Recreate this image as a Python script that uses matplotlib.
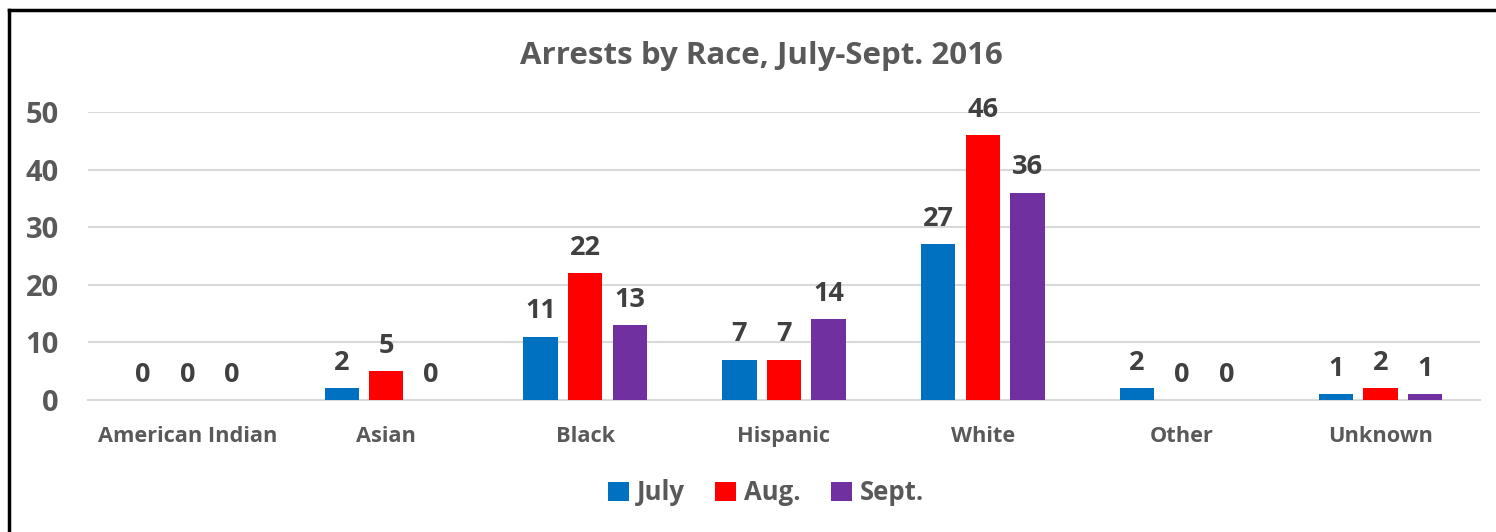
import matplotlib
matplotlib.use("Agg")
import matplotlib.pyplot as plt
from matplotlib.lines import Line2D
import numpy as np

categories = ["American Indian", "Asian", "Black", "Hispanic", "White", "Other", "Unknown"]
july = [0, 2, 11, 7, 27, 2, 1]
aug = [0, 5, 22, 7, 46, 0, 2]
sept = [0, 0, 13, 14, 36, 0, 1]
series_names = ["July", "Aug.", "Sept."]
colors = ["#0070C0", "#FF0000", "#7030A0"]
yticks = [0, 10, 20, 30, 40, 50]

plt.rcParams['font.family'] = ['Open Sans', 'DejaVu Sans']
plt.rcParams['font.weight'] = 'bold'

fig = plt.figure(figsize=(14.96, 5.32), dpi=100)
ax = fig.add_axes([88/1496, 1-400/532, (1480-88)/1496, (400-112)/532])

x = np.arange(len(categories))
bw = 0.172
step = 0.224
for i, (vals, name, c) in enumerate(zip([july, aug, sept], series_names, colors)):
    pos = x + (i - 1) * step
    ax.bar(pos, vals, width=bw, color=c, label=name, zorder=3)
    for p, v in zip(pos, vals):
        ax.annotate(str(v), (p, v), xytext=(0, 9), textcoords="offset points",
                    ha="center", va="bottom", fontsize=19.5, fontweight="bold",
                    color="#404040", annotation_clip=False)

ax.set_xlim(-0.5, len(categories) - 0.5)
ax.set_ylim(0, 50)
ax.set_yticks(yticks)
ax.set_yticklabels([str(t) for t in yticks], fontsize=21, color="#595959", fontweight="bold")
ax.set_xticks(x)
ax.set_xticklabels(categories, fontsize=15.7, color="#595959", fontweight="bold")
ax.tick_params(axis="both", length=0)
ax.tick_params(axis="y", pad=21)
ax.tick_params(axis="x", pad=19)
ax.grid(axis="y", color="#D9D9D9", linewidth=1.5, zorder=0)
for s in ["top", "right", "left"]:
    ax.spines[s].set_visible(False)
ax.spines["bottom"].set_color("#D9D9D9")
ax.spines["bottom"].set_linewidth(1.5)

fig.text(761/1496, 1-56/532, "Arrests by Race, July-Sept. 2016", ha="center", va="center",
         fontsize=22.5, fontweight="bold", color="#595959")

handles, labels = ax.get_legend_handles_labels()
fig.legend(handles, labels, loc="center", bbox_to_anchor=(766/1496, 1-493/532), ncol=3,
           frameon=False, prop={"size": 18.5, "weight": "bold"}, labelcolor="#595959",
           handlelength=0.8, handleheight=0.8, handletextpad=0.3, columnspacing=1.2)

# partial black frame (left and top edges visible)
fig.add_artist(Line2D([9/1496, 9/1496], [0, 1-10/532], color="black", linewidth=2.5,
                      transform=fig.transFigure))
fig.add_artist(Line2D([9/1496, 1], [1-10/532, 1-10/532], color="black", linewidth=2.5,
                      transform=fig.transFigure))

fig.savefig("out.png", dpi=100, facecolor="white")
